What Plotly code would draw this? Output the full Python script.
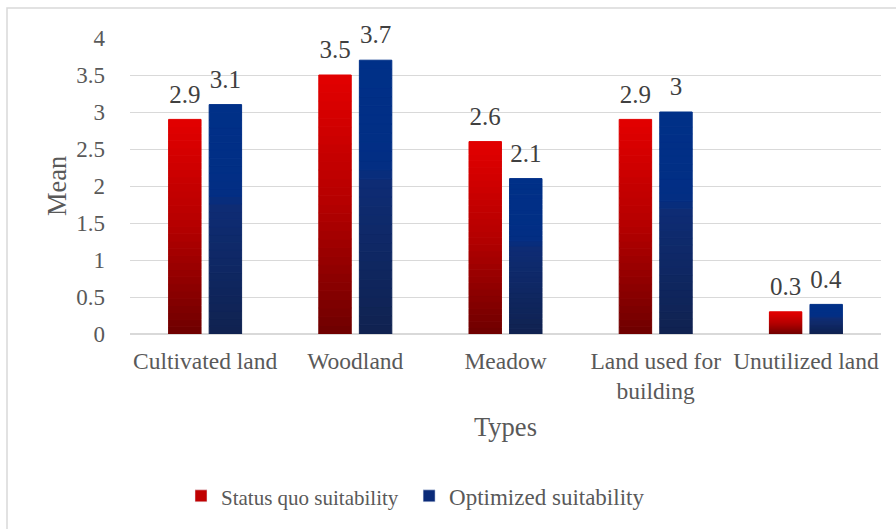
import plotly.graph_objects as go

categories = ["Cultivated land", "Woodland", "Meadow", "Land used for<br>building", "Unutilized land"]
status_quo = [2.9, 3.5, 2.6, 2.9, 0.3]
optimized = [3.1, 3.7, 2.1, 3.0, 0.4]
series_names = ["Status quo suitability", "Optimized suitability"]
y_ticks = [0, 0.5, 1, 1.5, 2, 2.5, 3, 3.5, 4]

FONT = "Liberation Serif"
N = 30  # gradient slices per bar
LABEL_PAD = 0.12  # gap (axis units) between bar top and its value label


def lerp_color(stops, t):
    for (t0, c0), (t1, c1) in zip(stops[:-1], stops[1:]):
        if t0 <= t <= t1:
            f = (t - t0) / (t1 - t0) if t1 > t0 else 0
            return "rgb(%d,%d,%d)" % tuple(round(a + (b - a) * f) for a, b in zip(c0, c1))
    return "rgb(%d,%d,%d)" % stops[-1][1]


red_stops = [(0.0, (0x6E, 0x00, 0x00)), (0.5, (0xB4, 0x00, 0x00)), (1.0, (0xE3, 0x00, 0x00))]
blue_stops = [(0.0, (0x10, 0x22, 0x50)), (0.55, (0x0E, 0x2C, 0x74)), (0.62, (0x02, 0x2E, 0x84)), (1.0, (0x00, 0x30, 0x88))]

legend_names = [
    "<span style='font-size:21px'>%s</span>\u00a0" % series_names[0],
    series_names[1],
]

fig = go.Figure()

for name, lname, vals, stops, grp, legcol in [
    (series_names[0], legend_names[0], status_quo, red_stops, "a", "#C00000"),
    (series_names[1], legend_names[1], optimized, blue_stops, "b", "#0A2A78"),
]:
    for k in range(N):
        t = (k + 0.5) / N
        col = lerp_color(stops, t)
        fig.add_trace(go.Bar(
            x=categories,
            y=[v / N for v in vals],
            base=[v * k / N for v in vals],
            offsetgroup=grp,
            legendgroup=grp,
            name=name,
            showlegend=False,
            marker=dict(color=col, line=dict(width=1, color=col)),
            hoverinfo="skip",
        ))
    # value labels, sitting on a transparent spacer above each bar
    fig.add_trace(go.Bar(
        x=categories,
        y=[LABEL_PAD] * len(vals),
        base=vals,
        offsetgroup=grp,
        legendgroup=grp,
        name=name,
        showlegend=False,
        marker=dict(color="rgba(0,0,0,0)", line=dict(width=0)),
        text=[format(v, "g") for v in vals],
        textposition="outside",
        textfont=dict(family=FONT, size=25, color="#404040"),
        constraintext="none",
        cliponaxis=False,
        hoverinfo="skip",
    ))
    # legend entry
    fig.add_trace(go.Bar(
        x=[None], y=[None], name=lname, offsetgroup=grp, legendgroup=grp,
        marker=dict(color=legcol), showlegend=True,
    ))

fig.update_layout(
    width=896, height=529,
    margin=dict(l=130, r=15, t=38, b=195),
    paper_bgcolor="white", plot_bgcolor="white",
    barmode="group", bargap=0.46, bargroupgap=0.2,
    font=dict(family=FONT, size=23.5, color="#595959"),
    showlegend=True,
    legend=dict(orientation="h", x=(181 - 130) / 751, xanchor="left", y=-0.547, yanchor="middle",
                font=dict(family=FONT, size=23, color="#595959"),
                itemwidth=30, tracegroupgap=0),
    xaxis=dict(
        type="category",
        showgrid=False, showline=False, zeroline=False,
        tickfont=dict(family=FONT, size=23.5, color="#595959"),
        ticks="", ticklabelstandoff=10,
        title=dict(text="Types", font=dict(family=FONT, size=26.5, color="#595959"), standoff=14),
    ),
    yaxis=dict(
        range=[0, 4], tickvals=y_ticks,
        showgrid=True, gridcolor="#d9d9d9", gridwidth=1.3,
        zeroline=True, zerolinecolor="#d9d9d9", zerolinewidth=2,
        showline=False, ticks="", ticklabelstandoff=24,
        tickfont=dict(family=FONT, size=23, color="#595959"),
    ),
    annotations=[dict(text="Mean", xref="paper", yref="paper",
                      x=(57 - 130) / 751, y=0.5, xanchor="center", yanchor="middle",
                      textangle=-90, showarrow=False,
                      font=dict(family=FONT, size=26.5, color="#595959"))],
    shapes=[dict(type="rect", xref="paper", yref="paper",
                 x0=(7 - 130) / 751, x1=(905 - 130) / 751,
                 y0=(334 - 540) / 296, y1=(334 - 8) / 296,
                 line=dict(color="#d9d9d9", width=1.5), fillcolor="rgba(0,0,0,0)", layer="below")],
)

fig.write_html("out.html")
